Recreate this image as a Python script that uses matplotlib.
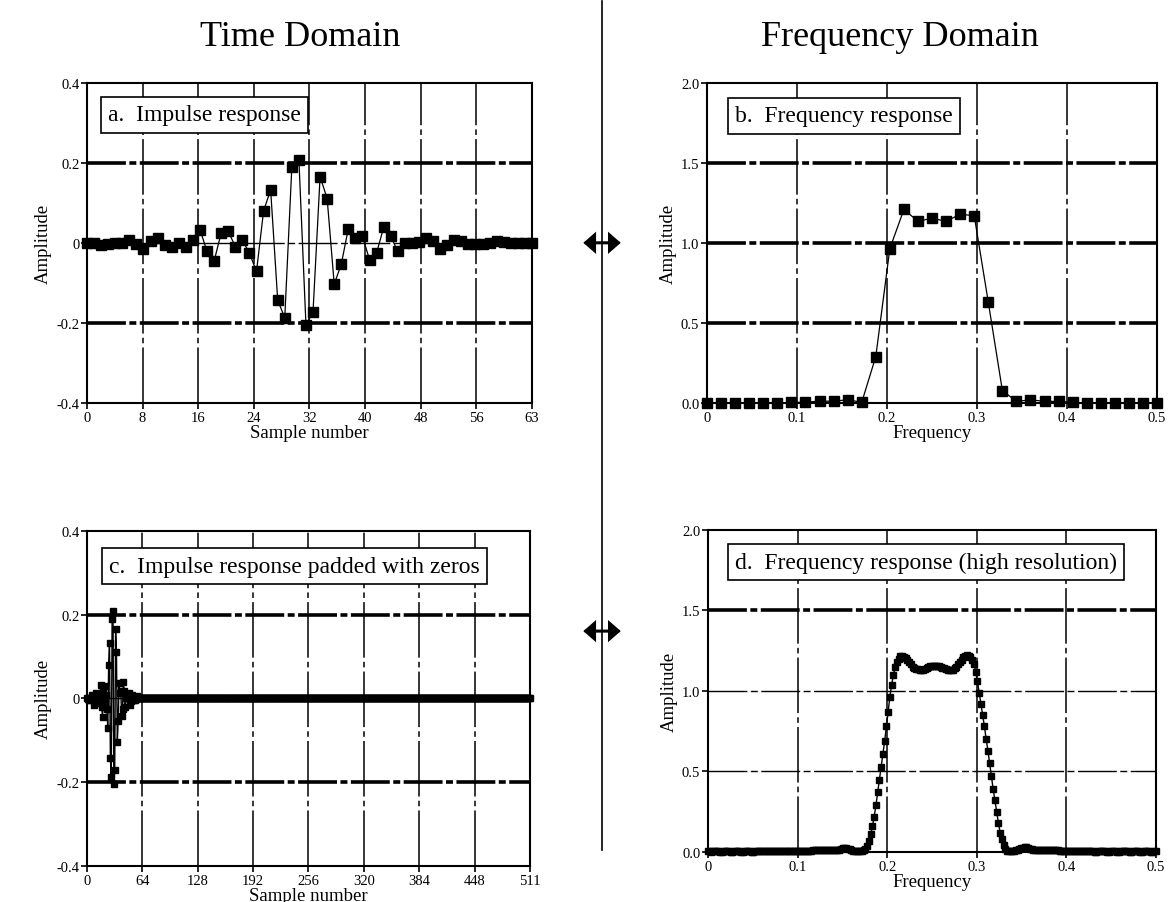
import matplotlib
matplotlib.use('Agg')
import matplotlib.pyplot as plt
import numpy as np
from matplotlib.lines import Line2D
from matplotlib.patches import FancyArrowPatch

plt.rcParams['font.family'] = ['Liberation Serif', 'DejaVu Serif']
plt.rcParams['lines.scale_dashes'] = False

# a. impulse response (64 samples)
impulse = [0.0, -0.001, -0.005, -0.003, 0.0, 0.001, 0.008, -0.002,
           -0.016, 0.004, 0.013, -0.006, -0.010, 0.0, -0.009, 0.008,
           0.033, -0.021, -0.045, 0.025, 0.029, -0.009, 0.008, -0.026,
           -0.071, 0.080, 0.133, -0.143, -0.187, 0.190, 0.208, -0.205,
           -0.172, 0.166, 0.111, -0.103, -0.053, 0.036, 0.012, 0.017,
           -0.042, -0.025, 0.039, 0.017, -0.021, 0.0, 0.0, 0.002,
           0.012, 0.006, -0.016, -0.006, 0.008, 0.004, -0.003, -0.003,
           -0.002, 0.0, 0.006, 0.002, 0.0, 0.0, 0.0, 0.0]

# c. same impulse response padded with zeros to 512 samples
padded = impulse + [0.0] * 448

# b. frequency response (33 points, 0 .. 0.5)
resp_lo = [0.0, 0.0, 0.0, 0.0, 0.0, 0.0, 0.004, 0.004, 0.013, 0.010, 0.021,
           0.004, 0.29, 0.965, 1.21, 1.135, 1.155, 1.135, 1.18, 1.17, 0.63,
           0.078, 0.010, 0.020, 0.010, 0.010, 0.005, 0.0, 0.0, 0.0, 0.0, 0.0, 0.0]

# d. frequency response, high resolution (257 points, 0 .. 0.5)
resp_hi = [
    0.004, 0.003, 0.002, 0.003, 0.004, 0.004, 0.003, 0.002, 0.002, 0.003, 0.004, 0.004, 0.003, 0.002, 0.002, 0.003,
    0.004, 0.004, 0.003, 0.002, 0.002, 0.003, 0.004, 0.004, 0.003, 0.002, 0.002, 0.003, 0.004, 0.004, 0.003, 0.003,
    0.003, 0.003, 0.004, 0.004, 0.003, 0.003, 0.003, 0.004, 0.004, 0.004, 0.003, 0.003, 0.003, 0.004, 0.004, 0.004,
    0.004, 0.004, 0.005, 0.005, 0.005, 0.005, 0.005, 0.005, 0.005, 0.007, 0.008, 0.009, 0.011, 0.012, 0.013, 0.013,
    0.013, 0.013, 0.013, 0.014, 0.014, 0.013, 0.012, 0.011, 0.010, 0.010, 0.011, 0.014, 0.019, 0.024, 0.027, 0.026,
    0.021, 0.016, 0.011, 0.008, 0.006, 0.005, 0.004, 0.004, 0.005, 0.010, 0.02, 0.04, 0.07, 0.11, 0.16, 0.22,
    0.29, 0.37, 0.45, 0.53, 0.61, 0.69, 0.78, 0.87, 0.965, 1.04, 1.10, 1.15, 1.18, 1.20, 1.215, 1.22,
    1.21, 1.205, 1.195, 1.18, 1.165, 1.15, 1.14, 1.135, 1.135, 1.13, 1.128, 1.13, 1.135, 1.14, 1.147, 1.152,
    1.155, 1.157, 1.158, 1.157, 1.154, 1.15, 1.145, 1.14, 1.135, 1.132, 1.13, 1.13, 1.133, 1.14, 1.15, 1.165,
    1.18, 1.195, 1.21, 1.218, 1.222, 1.22, 1.21, 1.195, 1.17, 1.12, 1.06, 0.99, 0.92, 0.85, 0.78, 0.70,
    0.63, 0.55, 0.47, 0.39, 0.32, 0.25, 0.18, 0.12, 0.078, 0.045, 0.02, 0.008, 0.004, 0.005, 0.007, 0.009,
    0.010, 0.013, 0.017, 0.022, 0.026, 0.028, 0.028, 0.025, 0.020, 0.016, 0.013, 0.011, 0.010, 0.010, 0.010, 0.010,
    0.010, 0.010, 0.011, 0.011, 0.011, 0.011, 0.011, 0.010, 0.010, 0.009, 0.008, 0.007, 0.006, 0.006, 0.005, 0.005,
    0.005, 0.004, 0.004, 0.004, 0.003, 0.003, 0.003, 0.003, 0.004, 0.004, 0.004, 0.003, 0.003, 0.002, 0.002, 0.003,
    0.003, 0.004, 0.004, 0.003, 0.002, 0.002, 0.003, 0.004, 0.004, 0.003, 0.002, 0.002, 0.003, 0.003, 0.004, 0.003,
    0.003, 0.002, 0.002, 0.003, 0.004, 0.004, 0.003, 0.002, 0.002, 0.003, 0.004, 0.004, 0.003, 0.002, 0.002, 0.003,
    0.004]

time_short_labels = ['0', '8', '16', '24', '32', '40', '48', '56', '63']
time_long_labels = ['0', '64', '128', '192', '256', '320', '384', '448', '511']
freq_labels = ['0', '0.1', '0.2', '0.3', '0.4', '0.5']
amp_time_labels = ['-0.4', '-0.2', '0', '0.2', '0.4']
amp_freq_labels = ['0.0', '0.5', '1.0', '1.5', '2.0']

THICK = dict(color='black', lw=2.6, linestyle=(0, (28, 2.5, 5, 2.5)), zorder=1)
THIN = dict(color='black', lw=1.0, linestyle=(0, (28, 2.5, 5, 2.5)), zorder=1)
VERT = dict(color='black', lw=1.1, linestyle=(0, (40, 3, 4, 3)), zorder=1)


def setup(ax, xmax, xlabels, ymin, ymax, ylabels, xlabel, box, thick_y, thin_y, boxpos):
    xt = np.linspace(0, xmax, len(xlabels))
    yt = np.linspace(ymin, ymax, len(ylabels))
    ax.set_xlim(0, xmax)
    ax.set_ylim(ymin, ymax)
    ax.set_xticks(xt)
    ax.set_xticklabels(xlabels)
    ax.set_yticks(yt)
    ax.set_yticklabels(ylabels)
    ax.tick_params(direction='out', length=4, width=1.2, labelsize=10.5, pad=1.5)
    for v in xt[1:-1]:
        ax.axvline(v, **VERT)
    for v in thick_y:
        ax.axhline(v, **THICK)
    for v in thin_y:
        ax.axhline(v, **THIN)
    for s in ax.spines.values():
        s.set_linewidth(1.5)
    ax.set_xlabel(xlabel, fontsize=13.5, labelpad=0.5)
    ax.set_ylabel('Amplitude', fontsize=13.5, labelpad=3)
    ax.text(boxpos[0], boxpos[1], box, transform=ax.transAxes, fontsize=17,
            va='center', ha='left', zorder=5,
            bbox=dict(boxstyle='square,pad=0.3', fc='white', ec='black', lw=1.2))


fig = plt.figure(figsize=(11.69, 9.03), dpi=100)

ax_a = fig.add_axes([0.0744, 0.5526, 0.3807, 0.3544])
ax_b = fig.add_axes([0.6048, 0.5526, 0.3850, 0.3544])
ax_c = fig.add_axes([0.0744, 0.0400, 0.3790, 0.3710])
ax_d = fig.add_axes([0.6056, 0.0554, 0.3832, 0.3566])

setup(ax_a, 63, time_short_labels, -0.4, 0.4, amp_time_labels, 'Sample number',
      'a.  Impulse response', [-0.2, 0.2], [0.0], (0.047, 0.90))
setup(ax_b, 0.5, freq_labels, 0, 2.0, amp_freq_labels, 'Frequency',
      'b.  Frequency response', [0.5, 1.0, 1.5], [], (0.062, 0.897))
setup(ax_c, 511, time_long_labels, -0.4, 0.4, amp_time_labels, 'Sample number',
      'c.  Impulse response padded with zeros', [-0.2, 0.2], [0.0], (0.05, 0.895))
setup(ax_d, 0.5, freq_labels, 0, 2.0, amp_freq_labels, 'Frequency',
      'd.  Frequency response (high resolution)', [1.5], [0.5, 1.0], (0.06, 0.90))

ax_a.plot(np.arange(len(impulse)), impulse, color='black', lw=0.9,
          marker='s', ms=6.5, zorder=3, clip_on=False)
ax_b.plot(np.linspace(0, 0.5, len(resp_lo)), resp_lo, color='black', lw=0.9,
          marker='s', ms=6.5, zorder=3, clip_on=False)
ax_c.plot(np.arange(len(padded)), padded, color='black', lw=1.0,
          marker='s', ms=4.5, zorder=3, clip_on=False)
ax_d.plot(np.linspace(0, 0.5, len(resp_hi)), resp_hi, color='black', lw=1.0,
          marker='s', ms=4.2, zorder=3, clip_on=False)

fig.text(0.257, 0.958, 'Time Domain', fontsize=26, ha='center', va='center')
fig.text(0.770, 0.958, 'Frequency Domain', fontsize=26, ha='center', va='center')

fig.add_artist(Line2D([0.515, 0.515], [0.998, 0.058], color='black', lw=1.2,
                      transform=fig.transFigure))
for yy in [0.730, 0.300]:
    fig.add_artist(FancyArrowPatch(
        (0.499, yy), (0.531, yy), transform=fig.transFigure,
        arrowstyle='<|-|>,head_length=0.4,head_width=0.35', mutation_scale=16,
        lw=2.2, color='black', shrinkA=0, shrinkB=0, joinstyle='miter'))

fig.savefig('out.png', dpi=100, facecolor='white')
